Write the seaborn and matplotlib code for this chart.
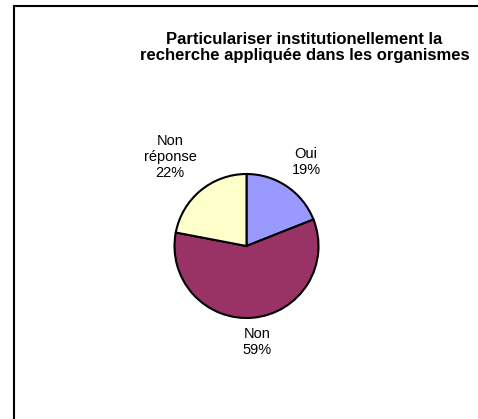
import matplotlib
matplotlib.use("Agg")
import matplotlib.pyplot as plt
import seaborn as sns
from matplotlib.patches import Rectangle

categories = ["Oui", "Non", "Non\nréponse"]
values = [19, 59, 22]
colors = ["#9999FF", "#993366", "#FFFFCC"]
title = "Particulariser institutionellement la\nrecherche appliquée dans les organismes"

sns.set_theme(style="white")
plt.rcParams['font.family'] = ['Liberation Sans', 'DejaVu Sans']
plt.rcParams['text.color'] = 'black'

W, H = 478, 419
fig = plt.figure(figsize=(W / 100, H / 100), dpi=100)
fig.patch.set_facecolor("white")

# pie axes: center at (246.5, 246) px from top-left, radius 72 px
cx, cy, r = 246.5, 246.0, 72.0
half = 2 * r
ax = fig.add_axes([(cx - half) / W, (H - cy - half) / H, 2 * half / W, 2 * half / H])

wedges, _ = ax.pie(values, colors=colors, startangle=90, counterclock=False,
                   wedgeprops=dict(edgecolor="black", linewidth=1.5),
                   radius=1, center=(0, 0), frame=False)
ax.set_xlim(-2, 2)
ax.set_ylim(-2, 2)
ax.set_aspect("equal")
ax.axis("off")

label_pos = [(0.826, 1.167), (0.146, -1.333), (-1.063, 1.236)]
total = sum(values)
for cat, v, (x, y) in zip(categories, values, label_pos):
    ax.text(x, y, f"{cat}\n{round(100 * v / total)}%", ha="center", va="center",
            fontsize=10.5, linespacing=1.2, color="black")

fig.text(304.5 / W, 1 - 47.5 / H, title, ha="center", va="center", fontsize=12,
         fontweight="bold", linespacing=1.08, color="black")

fig.patches.append(Rectangle((13.5 / W, -0.1), 1.2, 1.1 - 6 / H,
                             transform=fig.transFigure, fill=False,
                             edgecolor="black", linewidth=1.5, figure=fig))

fig.savefig("out.png", dpi=100)
